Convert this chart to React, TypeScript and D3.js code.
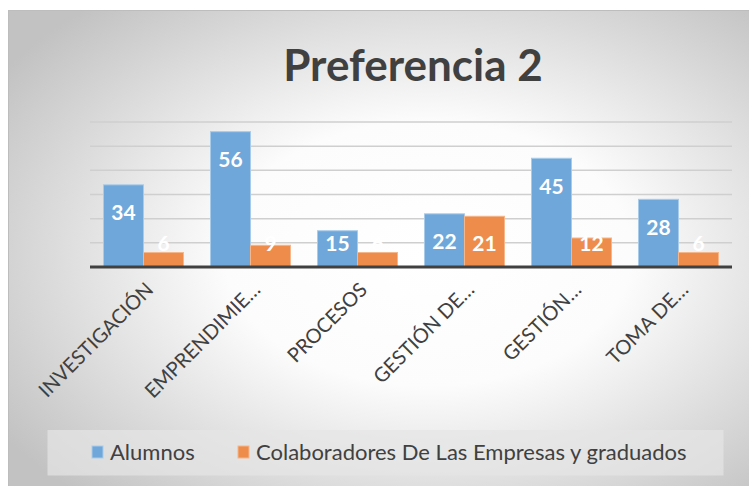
import React from "react";
import * as d3 from "d3";

const categories = ["INVESTIGACIÓN", "EMPRENDIMIE…", "PROCESOS", "GESTIÓN DE…", "GESTIÓN…", "TOMA DE…"];
const seriesNames = ["Alumnos", "Colaboradores De Las Empresas y graduados"];
const alumnos = [34, 56, 15, 22, 45, 28];
const colaboradores = [6, 9, 6, 21, 12, 6];
const yTicks = [10, 20, 30, 40, 50, 60];

const W = 749;
const H = 486;
const colors = ["#6FA7DA", "#EE8C4B"];
const strokes = ["#A9CBEA", "#F5B68C"];

export default function App() {
  const x = d3.scaleBand<string>().domain(categories).range([90, 732]);
  const xs = d3.scaleBand<string>().domain(seriesNames).range([0, x.bandwidth()]).paddingInner(0).paddingOuter(0.3375);
  const y = d3.scaleLinear().domain([0, 60]).range([267, 122]);
  const data = [alumnos, colaboradores];
  const font = "Lato, 'Open Sans', sans-serif";

  return (
    <svg width={W} height={H} style={{ position: "absolute", left: 0, top: 0 }}>
      <defs>
        <radialGradient id="bg" cx="0.56" cy="0.5" r="0.68">
          <stop offset="0" stopColor="#ffffff" />
          <stop offset="0.4" stopColor="#fcfcfc" />
          <stop offset="1" stopColor="#c2c2c2" />
        </radialGradient>
      </defs>
      <rect x={0} y={0} width={W} height={H} fill="#ffffff" />
      <rect x={8.5} y={10.5} width={W} height={H} fill="url(#bg)" stroke="#bdbdbd" strokeWidth={1} />
      <text x={413} y={81} textAnchor="middle" fontFamily={font} fontWeight={700} fontSize={44} fill="#404040">
        Preferencia 2
      </text>
      {yTicks.map((t) => (
        <line key={t} x1={90} x2={732} y1={y(t)} y2={y(t)} stroke="#cfcfcf" strokeWidth={1.5} />
      ))}
      {categories.map((c, i) =>
        data.map((series, s) => {
          const v = series[i];
          const bx = (x(c) ?? 0) + (xs(seriesNames[s]) ?? 0);
          const bw = xs.bandwidth();
          return (
            <rect key={c + s} x={bx} y={y(v)} width={bw} height={y(0) - y(v)} fill={colors[s]} stroke={strokes[s]} strokeWidth={1} />
          );
        })
      )}
      <line x1={90} x2={732} y1={y(0)} y2={y(0)} stroke="#404040" strokeWidth={3} />
      {categories.map((c, i) =>
        data.map((series, s) => {
          const v = series[i];
          const cx = (x(c) ?? 0) + (xs(seriesNames[s]) ?? 0) + xs.bandwidth() / 2;
          const cy = Math.min(y(v) + 28, y(0) - 24);
          return (
            <text key={"l" + c + s} x={cx} y={cy} dy="0.36em" textAnchor="middle" fontFamily={font} fontWeight={700} fontSize={21} fill="#ffffff">
              {v}
            </text>
          );
        })
      )}
      {categories.map((c) => {
        const cx = (x(c) ?? 0) + x.bandwidth() / 2 + 11;
        return (
          <text key={"x" + c} transform={`translate(${cx},${291}) rotate(-45)`} textAnchor="end" fontFamily={font} fontSize={20} fill="#404040">
            {c}
          </text>
        );
      })}
      <rect x={47.5} y={430} width={676} height={45.5} fill="#e6e6e6" opacity={0.7} />
      <rect x={92} y={446} width={11} height={12} fill={colors[0]} stroke={strokes[0]} />
      <text x={110} y={460} fontFamily={font} fontSize={22} fill="#404040">{seriesNames[0]}</text>
      <rect x={238} y={446} width={11} height={12} fill={colors[1]} stroke={strokes[1]} />
      <text x={256} y={460} fontFamily={font} fontSize={22} fill="#404040">{seriesNames[1]}</text>
    </svg>
  );
}
